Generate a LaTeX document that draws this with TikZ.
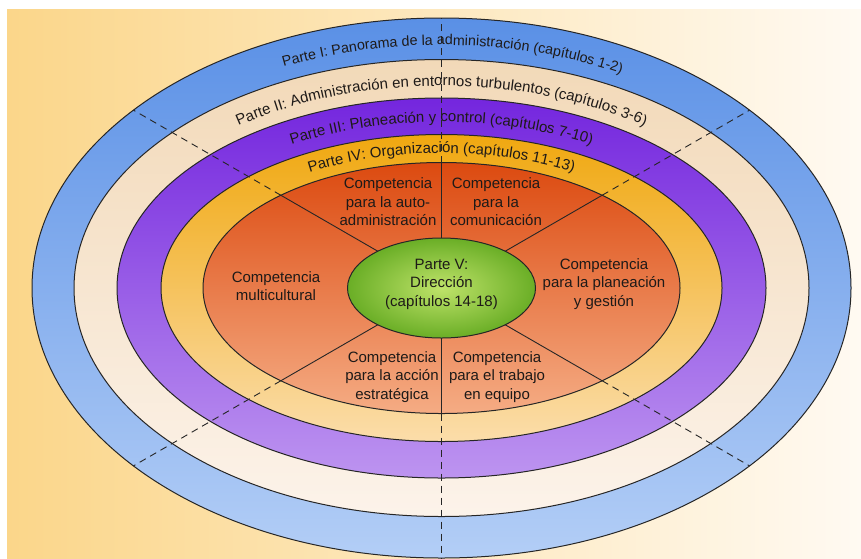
\documentclass[tikz,border=0pt]{standalone}
\usepackage{fontspec}
\setmainfont{Liberation Sans}
\usetikzlibrary{shapes.geometric,decorations.text}

\definecolor{fondoL}{HTML}{FBD68A}
\definecolor{fondoR}{HTML}{FFFAF2}
\definecolor{azulT}{HTML}{5A90E6}
\definecolor{azulB}{HTML}{B3CEF6}
\definecolor{cremaT}{HTML}{F2D9B8}
\definecolor{cremaB}{HTML}{FCF3EA}
\definecolor{moradoT}{HTML}{7426DE}
\definecolor{moradoB}{HTML}{BD94F0}
\definecolor{amarilloT}{HTML}{F0A810}
\definecolor{amarilloB}{HTML}{FBDDAA}
\definecolor{naranjaT}{HTML}{DC4A10}
\definecolor{naranjaB}{HTML}{F5AC84}
\definecolor{verdeI}{HTML}{BFE36A}
\definecolor{verdeO}{HTML}{6AAE26}
\definecolor{tinta}{HTML}{1E1A18}

\newcommand{\ringfont}{\fontsize{15}{18}\selectfont}
\newcommand{\ringfontext}{\fontsize{14.3}{17}\selectfont}
\newcommand{\compfont}{\fontsize{15}{18.5}\selectfont}

\tikzset{
  ring/.style={ellipse, draw=black!85, line width=1pt, inner sep=0pt, outer sep=0pt},
  comp/.style={align=center, font=\compfont, text=tinta, inner sep=0pt},
  sepline/.style={line width=0.9pt, draw=black!85},
  sepdash/.style={sepline, dash pattern=on 7pt off 5pt},
  ringlabel/.style={decorate, decoration={text along path, text align=center, text color=tinta}},
}

\begin{document}
\begin{tikzpicture}[x=1pt,y=1pt,yscale=-1]
%fondo
\useasboundingbox (0,0) rectangle (861,558);
\fill[white] (0,0) rectangle (861,558);
\shade[left color=fondoL, right color=fondoR] (7,9) rectangle (861,558);
%anillos
\node[ring, minimum width=819, minimum height=540, top color=azulT, bottom color=azulB] (p1) at (441.5,288) {};
\node[ring, minimum width=735, minimum height=457, top color=cremaT, bottom color=cremaB] (p2) at (441.5,288) {};
\node[ring, minimum width=649, minimum height=380, top color=moradoT, bottom color=moradoB] (p3) at (441.5,288) {};
\node[ring, minimum width=561, minimum height=307, top color=amarilloT, bottom color=amarilloB] (p4) at (441.5,288) {};
\node[ring, minimum width=477, minimum height=251, top color=naranjaT, bottom color=naranjaB] (nucleo) at (441.5,288) {};
\node[ring, minimum width=188, minimum height=100, inner color=verdeI, outer color=verdeO] (pv) at (441.5,288) {};
%divisiones
\foreach \a in {30,90,150,210,270,330}{
  \draw[sepline] (pv.\a) -- (nucleo.\a);
  \draw[sepdash] (nucleo.\a) -- (p1.\a);
}
%textos de los anillos
\path[ringlabel, decoration={text={|\ringfontext|Parte I: Panorama de la administración (capítulos 1-2)}}]
  (441.5,288) ++(202.5:382 and 243) arc[start angle=202.5, end angle=342.5, x radius=382, y radius=243];
\path[ringlabel, decoration={text={|\ringfont|Parte II: Administración en entornos turbulentos (capítulos 3-6)}}]
  (441.5,288) ++(200:340 and 202) arc[start angle=200, end angle=340, x radius=340, y radius=202];
\path[ringlabel, decoration={text={|\ringfont|Parte III: Planeación y control (capítulos 7-10)}}]
  (441.5,288) ++(200:297 and 166) arc[start angle=200, end angle=340, x radius=297, y radius=166];
\path[ringlabel, decoration={text={|\ringfont|Parte IV: Organización (capítulos 11-13)}}]
  (441.5,288) ++(200:255 and 135) arc[start angle=200, end angle=340, x radius=255, y radius=135];
%competencias
\node[comp] (auto) at (388,202) {Competencia\\para la auto-\\administración};
\node[comp] (comunic) at (496,202) {Competencia\\para la\\comunicación};
\node[comp] (multi) at (276,286) {Competencia\\multicultural};
\node[comp] (planea) at (604,284) {Competencia\\para la planeación\\y gestión};
\node[comp] (accion) at (392,377) {Competencia\\para la acción\\estratégica};
\node[comp] (equipo) at (497,377) {Competencia\\para el trabajo\\en equipo};
\node[comp] (direccion) at (441.5,284) {Parte V:\\Dirección\\(capítulos 14-18)};
\end{tikzpicture}
\end{document}
